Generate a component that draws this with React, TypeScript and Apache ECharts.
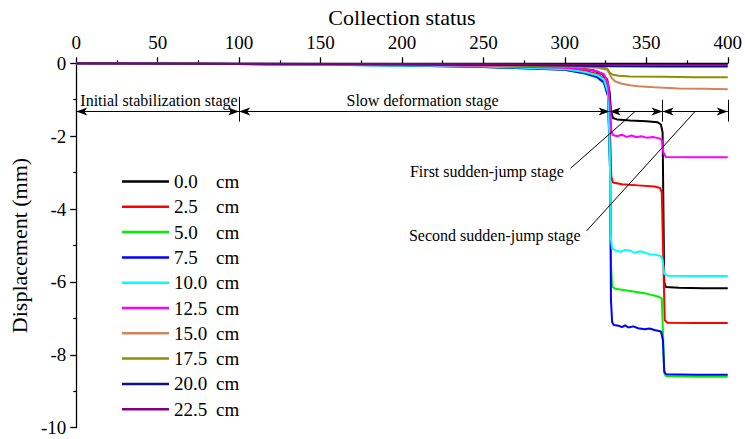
import React, { useEffect, useRef } from "react";
import * as echarts from "echarts";

const FONT = "Liberation Serif";

const seriesNames = [
  "0.0 cm", "2.5 cm", "5.0 cm", "7.5 cm", "10.0 cm",
  "12.5 cm", "15.0 cm", "17.5 cm", "20.0 cm", "22.5 cm",
];
const seriesColors = [
  "#000000", "#ff0000", "#00f000", "#0000ff", "#00ffff",
  "#ff00ff", "#d2845a", "#8f8f00", "#10108a", "#800080",
];

type Pt = [number, number];

const d00: Pt[] = [
  [0, 0], [50, -0.01], [100, -0.02], [150, -0.03], [200, -0.05], [250, -0.07],
  [290, -0.1], [310, -0.14], [318, -0.2], [323, -0.3], [326, -0.45], [327.5, -0.8],
  [328.3, -1.3], [329.5, -1.5], [332, -1.54], [340, -1.57], [350, -1.59], [357, -1.62],
  [359, -1.68], [360, -1.9], [360.5, -4], [361, -6.0], [362, -6.14], [370, -6.16],
  [385, -6.17], [400, -6.17],
];
const d25: Pt[] = [
  [0, 0], [50, -0.01], [100, -0.02], [150, -0.03], [200, -0.05], [250, -0.08],
  [300, -0.14], [312, -0.2], [320, -0.3], [324, -0.42], [326.5, -0.7], [327.8, -2],
  [328.5, -3.1], [329.5, -3.27], [335, -3.32], [345, -3.35], [355, -3.38], [358.5, -3.42],
  [359.5, -3.55], [360.5, -5.5], [361.3, -7.05], [363, -7.12], [380, -7.13], [400, -7.13],
];
const d50: Pt[] = [
  [0, 0], [50, -0.01], [100, -0.02], [150, -0.04], [200, -0.06], [250, -0.1],
  [300, -0.18], [312, -0.28], [320, -0.4], [324, -0.55], [326.5, -0.9], [327.8, -3],
  [328.3, -5.5], [329, -6.12], [331, -6.19], [340, -6.25], [350, -6.32], [357, -6.4],
  [359.5, -6.45], [360.3, -7.5], [361, -8.5], [362, -8.58], [380, -8.6], [400, -8.6],
];
const d75: Pt[] = [
  [0, 0], [50, -0.01], [100, -0.02], [150, -0.04], [200, -0.06], [250, -0.1],
  [300, -0.18], [312, -0.27], [320, -0.38], [324, -0.52], [326.5, -0.9], [327.8, -3],
  [328.3, -6.5], [329, -7.1], [330, -7.18], [333, -7.2], [335, -7.24], [337, -7.19],
  [339, -7.25], [342, -7.22], [345, -7.27], [349, -7.3], [352, -7.28], [355, -7.32],
  [359, -7.36], [360.2, -7.6], [361, -8.45], [362, -8.53], [380, -8.55], [400, -8.55],
];
const d100: Pt[] = [
  [0, 0], [50, -0.01], [100, -0.02], [150, -0.04], [200, -0.06], [250, -0.09],
  [300, -0.16], [312, -0.24], [320, -0.33], [324, -0.45], [326.5, -0.8], [327.6, -2.5],
  [328.2, -4.8], [329, -5.08], [331, -5.13], [334, -5.17], [337, -5.12], [340, -5.14],
  [343, -5.2], [346, -5.16], [349, -5.19], [352, -5.24], [355, -5.25], [359, -5.29],
  [360, -5.4], [361, -5.78], [363, -5.83], [380, -5.84], [400, -5.84],
];
const d125: Pt[] = [
  [0, 0], [50, -0.01], [100, -0.02], [150, -0.03], [200, -0.05], [250, -0.07],
  [300, -0.12], [312, -0.16], [320, -0.22], [324, -0.3], [326.5, -0.55], [327.8, -1.2],
  [328.5, -1.85], [329.5, -1.97], [332, -2.0], [335, -1.96], [338, -2.02], [341, -1.98],
  [344, -2.03], [347, -2.0], [350, -2.04], [354, -2.02], [358, -2.06], [359.5, -2.1],
  [360.5, -2.45], [362, -2.57], [380, -2.58], [400, -2.58],
];
const d150: Pt[] = [
  [0, 0], [100, -0.02], [200, -0.04], [250, -0.06], [300, -0.09], [320, -0.12],
  [326, -0.18], [327.5, -0.3], [329, -0.42], [331, -0.5], [335, -0.56], [340, -0.6],
  [345, -0.63], [355, -0.66], [370, -0.69], [385, -0.7], [400, -0.71],
];
const d175: Pt[] = [
  [0, 0], [100, -0.02], [200, -0.04], [250, -0.05], [300, -0.08], [320, -0.1],
  [326, -0.14], [327.5, -0.25], [329, -0.31], [333, -0.34], [340, -0.36], [360, -0.37],
  [380, -0.38], [400, -0.38],
];
const d200: Pt[] = [
  [0, 0], [100, -0.01], [200, -0.03], [300, -0.06], [330, -0.08], [360, -0.09], [400, -0.09],
];
const d225: Pt[] = [
  [0, 0], [100, -0.01], [200, -0.02], [300, -0.03], [330, -0.04], [400, -0.04],
];
const seriesData = [d00, d25, d50, d75, d100, d125, d150, d175, d200, d225];

// annotation values (data coordinates)
const stageArrowY = -1.32;
const stageSpans: [number, number][] = [[0, 100], [100, 327.5], [327.5, 360], [360, 400]];
const stageBars: [number, number, number][] = [[100, -0.92, -1.6], [360, -1.0, -1.6], [400, -1.0, -1.6]];
const leaderLines: [Pt, Pt][] = [
  [[303.5, -2.88], [343.2, -1.32]],
  [[313.3, -4.6], [379.8, -1.33]],
];
const stageTexts: { text: string; at: Pt; align: "left" | "center" | "right" }[] = [
  { text: "Initial stabilization stage", at: [2.5, -1.03], align: "left" },
  { text: "Slow deformation stage", at: [212.6, -1.03], align: "center" },
  { text: "First sudden-jump stage", at: [299.3, -2.97], align: "right" },
  { text: "Second sudden-jump stage", at: [309.6, -4.73], align: "right" },
];

export default function App() {
  const ref = useRef<HTMLDivElement>(null);
  useEffect(() => {
    const chart = echarts.init(ref.current!, null, { renderer: "svg" });
    const axisLine = { show: true, lineStyle: { color: "#000", width: 1.3 } };
    const markData: any[] = [];
    stageSpans.forEach(([a, b]) => {
      markData.push([
        { coord: [a, stageArrowY], symbol: "arrow" },
        { coord: [b, stageArrowY], symbol: "arrow" },
      ]);
    });
    stageBars.forEach(([x, y1, y2]) => {
      markData.push([
        { coord: [x, y1], symbol: "none" },
        { coord: [x, y2], symbol: "none" },
      ]);
    });
    leaderLines.forEach(([p1, p2]) => {
      markData.push([
        { coord: p1, symbol: "none" },
        { coord: p2, symbol: "none" },
      ]);
    });

    const series: any[] = seriesNames.map((name, i) => ({
      name,
      type: "line",
      data: seriesData[i],
      symbol: "none",
      lineStyle: { width: 2, color: seriesColors[i] },
      itemStyle: { color: seriesColors[i] },
      z: 2,
    }));
    series.push({
      name: "annotations",
      type: "line",
      data: [],
      silent: true,
      markLine: {
        silent: true,
        animation: false,
        symbolSize: [6, 11],
        label: { show: false },
        lineStyle: { color: "#000", width: 1, type: "solid" },
        emphasis: { disabled: true },
        data: markData,
      },
    });

    chart.setOption({
      animation: false,
      backgroundColor: "#fff",
      textStyle: { fontFamily: FONT },
      grid: { left: 74.5, top: 63.3, width: 655.5, height: 364.4, containLabel: false },
      legend: {
        data: seriesNames,
        orient: "vertical",
        left: 122,
        top: 172,
        padding: 0,
        icon: "rect",
        itemWidth: 47,
        itemHeight: 2.5,
        itemGap: 6.3,
        selectedMode: false,
        formatter: (name: string) => {
          const parts = name.split(" ");
          return `{n|${parts[0]}}{u|${parts[1]}}`;
        },
        textStyle: {
          color: "#000",
          fontFamily: FONT,
          fontSize: 19,
          rich: {
            n: { width: 42, fontSize: 19, fontFamily: FONT, color: "#000", lineHeight: 20 },
            u: { fontSize: 19, fontFamily: FONT, color: "#000", lineHeight: 20 },
          },
        },
      },
      xAxis: {
        type: "value",
        position: "top",
        min: 0,
        max: 400,
        interval: 50,
        name: "Collection status",
        nameLocation: "middle",
        nameGap: 34,
        nameTextStyle: { fontSize: 22, color: "#000", fontFamily: FONT },
        axisLine,
        axisTick: { show: true, inside: false, length: 6, lineStyle: { color: "#000", width: 1.3 } },
        minorTick: { show: true, splitNumber: 2, length: 3, lineStyle: { color: "#000", width: 1.2 } },
        axisLabel: { fontSize: 19, color: "#000", margin: 11, fontFamily: FONT },
        splitLine: { show: false },
      },
      yAxis: {
        type: "value",
        min: -10,
        max: 0,
        interval: 2,
        name: "Displacement (mm)",
        nameLocation: "middle",
        nameGap: 38,
        nameTextStyle: { fontSize: 22, color: "#000", fontFamily: FONT },
        axisLine,
        axisTick: { show: true, inside: false, length: 6, lineStyle: { color: "#000", width: 1.3 } },
        minorTick: { show: true, splitNumber: 2, length: 3, lineStyle: { color: "#000", width: 1.2 } },
        axisLabel: { fontSize: 19, color: "#000", margin: 10, fontFamily: FONT },
        splitLine: { show: false },
      },
      series,
    });

    const graphics = stageTexts.map((t) => {
      const [px, py] = chart.convertToPixel({ gridIndex: 0 }, t.at) as number[];
      return {
        type: "text",
        x: px,
        y: py,
        silent: true,
        style: {
          text: t.text,
          fontFamily: FONT,
          fontSize: 16,
          fill: "#000",
          align: t.align,
          verticalAlign: "middle",
        },
        z: 10,
      };
    });
    chart.setOption({ graphic: graphics });

    return () => chart.dispose();
  }, []);
  return (
    <div
      ref={ref}
      style={{ position: "fixed", left: 0, top: 0, width: 745, height: 439 }}
    />
  );
}
